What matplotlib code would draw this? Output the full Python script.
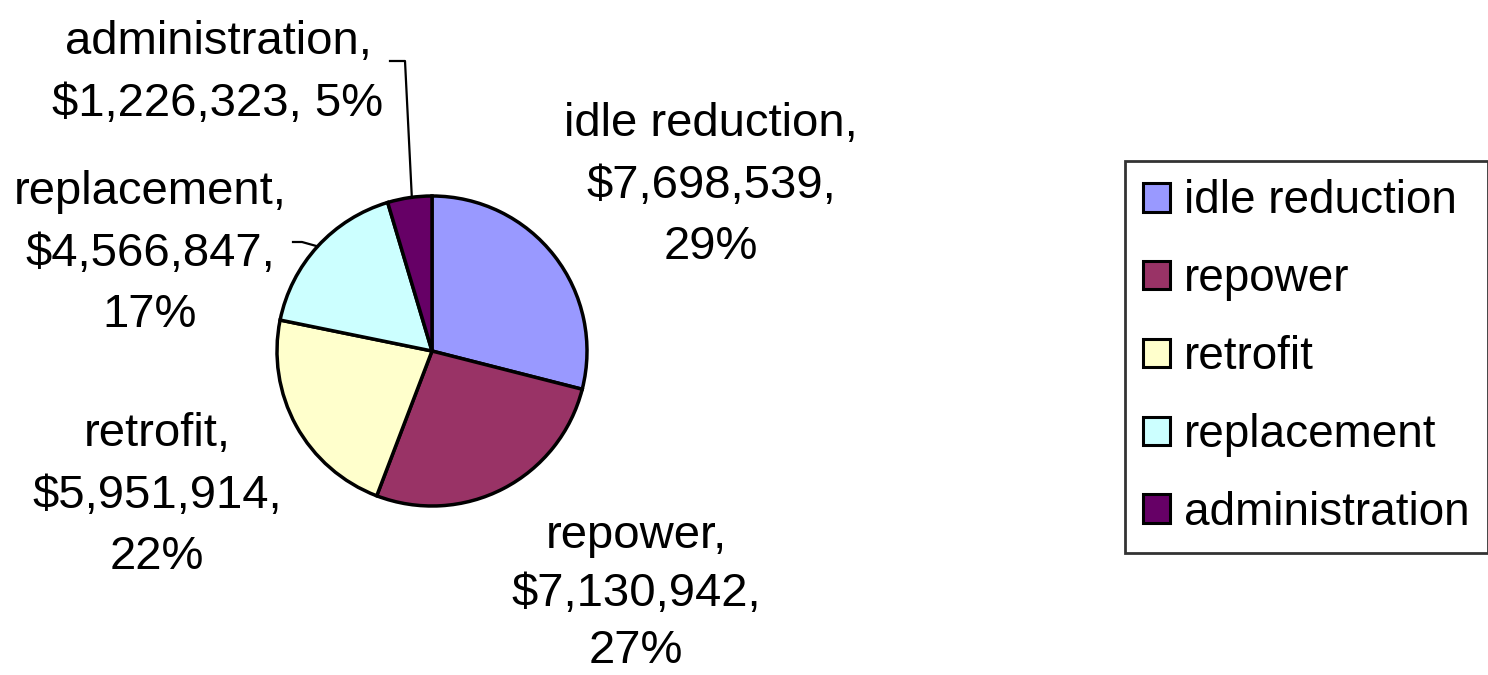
import numpy as np
import matplotlib
matplotlib.use('Agg')
import matplotlib.pyplot as plt
from matplotlib.patches import Patch

plt.rcParams['font.family'] = ['Liberation Sans', 'DejaVu Sans']

# data
categories = ['idle reduction', 'repower', 'retrofit', 'replacement', 'administration']
amounts = [7698539, 7130942, 5951914, 4566847, 1226323]
colors = ['#9999FF', '#993366', '#FFFFCC', '#CCFFFF', '#660066']

fig = plt.figure(figsize=(14.88, 6.75), dpi=100)
ax = fig.add_axes([0, 0, 1, 1])

cx, cy, r = 432, 351, 155
# y axis is flipped, so counterclock=True runs clockwise on screen
wedges, _ = ax.pie(amounts, colors=colors, startangle=-90, counterclock=True,
                   center=(cx, cy), radius=r, frame=True,
                   wedgeprops=dict(edgecolor='black', linewidth=2.5))
ax.set_xlim(0, 1488)
ax.set_ylim(675, 0)
ax.set_aspect('equal')
ax.axis('off')

total = sum(amounts)
pcts = [round(a / total * 100) for a in amounts]

fs = 34
# label position (top centre) and line spacing for each slice
labels = [
    (711, 102, 1.52, '%s,\n$%s,\n%d%%'),
    (636, 514, 1.4, '%s,\n$%s,\n%d%%'),
    (157, 412, 1.52, '%s,\n$%s,\n%d%%'),
    (150, 170, 1.52, '%s,\n$%s,\n%d%%'),
    (218, 20, 1.52, '%s,\n$%s, %d%%'),
]
for i, (tx, ty, ls, fmt) in enumerate(labels):
    ax.text(tx, ty, fmt % (categories[i], format(amounts[i], ','), pcts[i]),
            ha='center', va='top', fontsize=fs, linespacing=ls)

# leader lines to the small slices
def edge_point(i, frac=0.5):
    w = wedges[i]
    ang = np.deg2rad(w.theta1 + (w.theta2 - w.theta1) * frac)
    return cx + r * np.cos(ang), cy + r * np.sin(ang)

ex, ey = edge_point(4, 0.55)
ax.plot([390, 405, ex], [61, 61, ey], color='black', lw=1.6)
ex, ey = edge_point(3, 0.5)
ax.plot([293, 302, ex], [242, 242, ey], color='black', lw=1.6)

handles = [Patch(facecolor=c, edgecolor='black', linewidth=2.2) for c in colors]
leg = ax.legend(handles, categories, loc='upper left',
                bbox_to_anchor=(1125 / 1488, 1 - 161 / 675),
                bbox_transform=fig.transFigure,
                fontsize=33, frameon=True, fancybox=False,
                handlelength=0.59, handleheight=0.59, handletextpad=0.3,
                labelspacing=0.74, borderpad=0.4, borderaxespad=0)
leg.get_frame().set_edgecolor('black')
leg.get_frame().set_linewidth(2)

fig.savefig('out.png', dpi=100)
